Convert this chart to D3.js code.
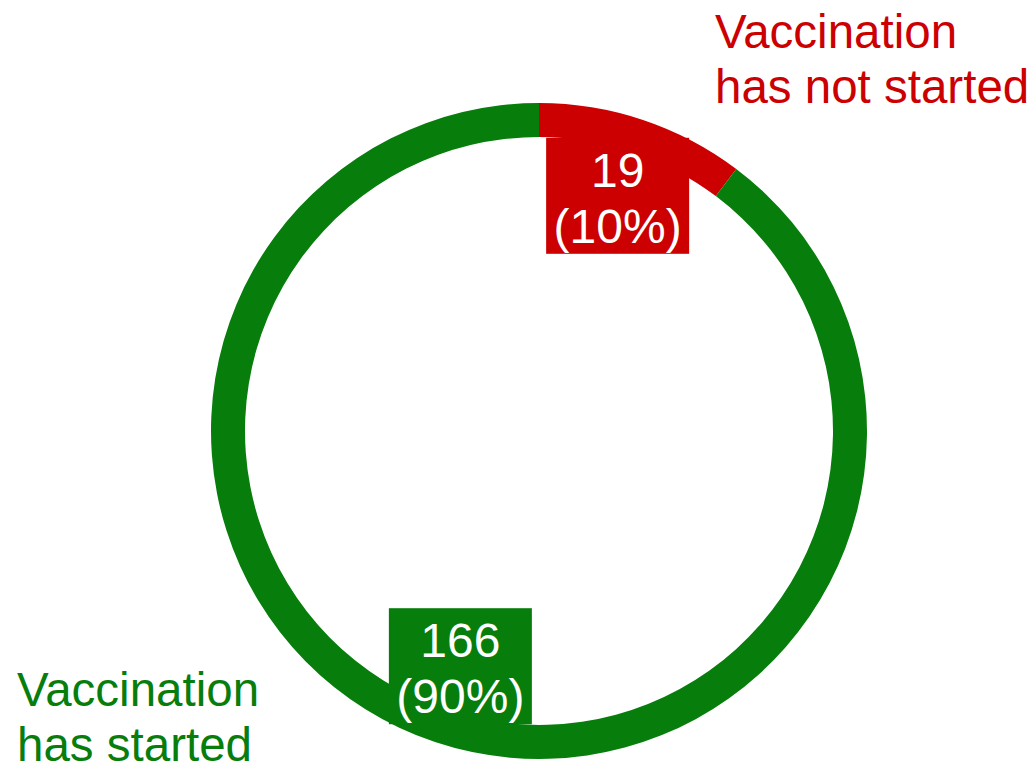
<!DOCTYPE html>
<html>
<head>
<meta charset="utf-8">
<script src="https://cdn.jsdelivr.net/npm/d3@7"></script>
<style>
  html, body { margin: 0; padding: 0; background: #fff; }
  svg { display: block; font-family: "Liberation Sans", Arial, sans-serif; }
</style>
</head>
<body>
<div id="donut"></div>
<script>
// data
var categories = ["Vaccination has not started", "Vaccination has started"];
var labelLines = [["Vaccination", "has not started"], ["Vaccination", "has started"]];
var values = [19, 166];
var colors = ["#cc0000", "#077d0b"];

var width = 1035,
    height = 767;

var cx = 539, cy = 431;
var outerR = 328, innerR = 294;
var labelR = 248;

var svg = d3.select("#donut")
  .append("svg")
    .attr("width", width)
    .attr("height", height);

var g = svg.append("g")
    .attr("transform", "translate(" + cx + "," + cy + ")");

var data = categories.map(function(c, i) { return { key: c, value: values[i], lines: labelLines[i] }; });
var total = d3.sum(values);

var color = d3.scaleOrdinal()
  .domain(categories)
  .range(colors);

var pie = d3.pie()
  .sort(null)
  .value(function(d) { return d.value; });
var data_ready = pie(data);

var arcGenerator = d3.arc()
  .innerRadius(innerR)
  .outerRadius(outerR);

// ring
g.selectAll("path.slice")
  .data(data_ready)
  .enter()
  .append("path")
    .attr("class", "slice")
    .attr("d", arcGenerator)
    .attr("fill", function(d) { return color(d.data.key); });

// value boxes at the middle of each slice
var labelArc = d3.arc().innerRadius(labelR).outerRadius(labelR);
var boxW = 143, boxH = 116;

var boxes = g.selectAll("g.box")
  .data(data_ready)
  .enter()
  .append("g")
    .attr("class", "box")
    .attr("transform", function(d) {
      var c = labelArc.centroid(d);
      return "translate(" + c[0] + "," + c[1] + ")";
    });

boxes.append("rect")
  .attr("x", -boxW / 2)
  .attr("y", -boxH / 2)
  .attr("width", boxW)
  .attr("height", boxH)
  .attr("fill", function(d) { return color(d.data.key); });

boxes.append("text")
  .attr("text-anchor", "middle")
  .attr("fill", "#fff")
  .style("font-size", "48px")
  .selectAll("tspan")
  .data(function(d) {
    return [String(d.data.value), "(" + Math.round(d.data.value / total * 100) + "%)"];
  })
  .enter()
  .append("tspan")
    .attr("x", 0)
    .attr("y", function(d, i) { return i === 0 ? -9 : 47; })
    .text(function(d) { return d; });

// category labels outside the ring
var labelPos = [[715, 48], [17, 706]];
svg.selectAll("text.cat")
  .data(data)
  .enter()
  .append("text")
    .attr("class", "cat")
    .attr("fill", function(d) { return color(d.key); })
    .style("font-size", "47.5px")
    .each(function(d, i) {
      d3.select(this).selectAll("tspan")
        .data(d.lines)
        .enter()
        .append("tspan")
          .attr("x", labelPos[i][0])
          .attr("y", function(t, j) { return labelPos[i][1] + j * 55; })
          .text(function(t) { return t; });
    });
</script>
</body>
</html>
